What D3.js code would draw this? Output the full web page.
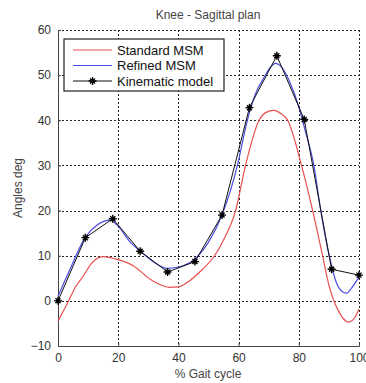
<!DOCTYPE html>
<html>
<head>
<meta charset="utf-8">
<script src="https://cdn.jsdelivr.net/npm/d3@7"></script>
<style>
  body { margin: 0; background: #fff; }
  text { font-family: "Liberation Sans", Arial, sans-serif; }
</style>
</head>
<body>
<div id="chart"></div>
<script>
// Kinematic model samples (% gait cycle, angle in deg)
var kinX = [0, 9.1, 18.2, 27.3, 36.4, 45.5, 54.5, 63.6, 72.7, 81.8, 90.9, 100];
var kinY = [0, 14, 18.2, 11, 6.4, 8.7, 19, 42.8, 54.3, 40.2, 7, 5.7];

// Standard MSM curve
var stdX = [0, 3, 6, 8.4, 11, 15, 19, 25, 31, 37, 40, 43, 48, 52, 55, 59, 62.3, 66.8, 69, 71.7, 74, 76.3, 80.9, 84.6, 87.9, 90, 93, 96.5, 98.5, 100];
var stdY = [-4.5, -0.7, 3.3, 5.5, 8.2, 9.8, 9.3, 7.8, 4.6, 3.0, 3.1, 4.1, 7, 10, 13.5, 20, 30, 40, 41.7, 42.2, 41.5, 40, 30, 20, 10, 3.5, -2, -4.7, -3.8, -1.8];

// Refined MSM curve
var refX = [0, 4, 9, 13, 17.3, 20, 24, 27.3, 32, 36.2, 40, 45, 50, 54.5, 59.6, 62.9, 66, 68.3, 70.5, 72.3, 74, 77, 80, 82, 85, 87.3, 90.1, 92.5, 94.5, 95.8, 97.5, 100];
var refY = [1, 7, 14, 16.8, 17.9, 16.5, 13, 11, 8.5, 7.2, 7.5, 9, 13, 19, 30, 40, 46.5, 49.3, 51.7, 52.6, 52, 48.5, 43, 38, 30, 20, 10, 4, 2, 1.7, 2.8, 5.3];

var xTicks = [0, 20, 40, 60, 80, 100];
var yTicks = [-10, 0, 10, 20, 30, 40, 50, 60];
var legendNames = ["Standard MSM", "Refined MSM", "Kinematic model"];

var width = 366,
    height = 383;
var margin = ({ top: 30, right: 7, bottom: 37, left: 58 }),
    iwidth = width - margin.left - margin.right,
    iheight = height - margin.top - margin.bottom;

var svg = d3.select("#chart")
    .append("svg")
    .attr("width", width)
    .attr("height", height);

var g = svg.append("g")
    .attr("transform", `translate(${margin.left}, ${margin.top})`);

var x = d3.scaleLinear().domain([0, 100]).range([0, iwidth]);
var y = d3.scaleLinear().domain([-10, 60]).range([iheight, 0]);

// dotted grid
var grid = g.append("g").attr("shape-rendering", "crispEdges");
grid.selectAll("line.v")
    .data(xTicks.filter(function(d) { return d > 0; }))
    .enter().append("line")
    .attr("class", "v")
    .attr("x1", function(d) { return Math.round(x(d)) + 0.5; })
    .attr("x2", function(d) { return Math.round(x(d)) + 0.5; })
    .attr("y1", 0).attr("y2", iheight)
    .attr("stroke", "#222").attr("stroke-width", 1)
    .attr("stroke-dasharray", "2,2");
grid.selectAll("line.h")
    .data(yTicks.filter(function(d) { return d > -10; }))
    .enter().append("line")
    .attr("class", "h")
    .attr("y1", function(d) { return Math.round(y(d)) + 0.5; })
    .attr("y2", function(d) { return Math.round(y(d)) + 0.5; })
    .attr("x1", 0).attr("x2", iwidth)
    .attr("stroke", "#222").attr("stroke-width", 1)
    .attr("stroke-dasharray", "2,2");

// axes
var xAxis = g.append("g")
    .attr("transform", `translate(0, ${iheight})`)
    .call(d3.axisBottom(x).tickValues(xTicks).tickSize(-3).tickPadding(7));
var yAxis = g.append("g")
    .call(d3.axisLeft(y).tickValues(yTicks).tickSize(-3).tickPadding(7));
[xAxis, yAxis].forEach(function(a) {
    a.select(".domain").attr("stroke", "#444");
    a.selectAll(".tick line").attr("stroke", "#444");
    a.selectAll("text")
        .attr("fill", "#333")
        .style("font-size", "12px")
        .style("font-family", "'Liberation Sans', Arial, sans-serif");
});

// curves
var smooth = d3.line()
    .x(function(d) { return x(d[0]); })
    .y(function(d) { return y(d[1]); })
    .curve(d3.curveMonotoneX);
var straight = d3.line()
    .x(function(d) { return x(d[0]); })
    .y(function(d) { return y(d[1]); });

g.append("path")
    .datum(d3.zip(stdX, stdY))
    .attr("d", smooth)
    .attr("fill", "none").attr("stroke", "#e8504f").attr("stroke-width", 1.2);
g.append("path")
    .datum(d3.zip(refX, refY))
    .attr("d", smooth)
    .attr("fill", "none").attr("stroke", "#4a4ce0").attr("stroke-width", 1.2);
g.append("path")
    .datum(d3.zip(kinX, kinY))
    .attr("d", straight)
    .attr("fill", "none").attr("stroke", "#111").attr("stroke-width", 1);

// asterisk markers
function star(sel) {
    sel.append("path")
        .attr("d", "M-4,0H4M0,-4V4M-2.5,-2.5L2.5,2.5M-2.5,2.5L2.5,-2.5")
        .attr("stroke", "#000").attr("stroke-width", 1.4);
    sel.append("circle").attr("r", 1.6).attr("fill", "#000");
}
g.selectAll(".kin")
    .data(d3.zip(kinX, kinY))
    .enter().append("g")
    .attr("transform", function(d) { return "translate(" + x(d[0]) + "," + y(d[1]) + ")"; })
    .call(star);

// legend
var legend = svg.append("g").attr("transform", "translate(64, 39)");
legend.append("rect")
    .attr("width", 160).attr("height", 52)
    .attr("fill", "#fff").attr("stroke", "#222").attr("stroke-width", 1.2);
var legColors = ["#e8504f", "#4a4ce0", "#111"];
legendNames.forEach(function(name, i) {
    var ly = 11 + i * 15.5;
    legend.append("line")
        .attr("x1", 9).attr("x2", 48).attr("y1", ly).attr("y2", ly)
        .attr("stroke", legColors[i]).attr("stroke-width", 1.1);
    if (i === 2) {
        legend.append("g").attr("transform", "translate(28.5," + ly + ")").call(star);
    }
    legend.append("text")
        .attr("x", 53).attr("y", ly + 4.5)
        .attr("fill", "#111")
        .style("font-size", "13px")
        .text(name);
});

// titles
svg.append("text")
    .attr("x", 208).attr("y", 19)
    .attr("text-anchor", "middle")
    .attr("fill", "#444")
    .style("font-size", "12px")
    .text("Knee -  Sagittal plan");
svg.append("text")
    .attr("x", 208).attr("y", 378)
    .attr("text-anchor", "middle")
    .attr("fill", "#444")
    .style("font-size", "12px")
    .text("% Gait cycle");
svg.append("text")
    .attr("transform", "translate(22, 188) rotate(-90)")
    .attr("text-anchor", "middle")
    .attr("fill", "#444")
    .style("font-size", "12px")
    .text("Angles deg");
</script>
</body>
</html>
